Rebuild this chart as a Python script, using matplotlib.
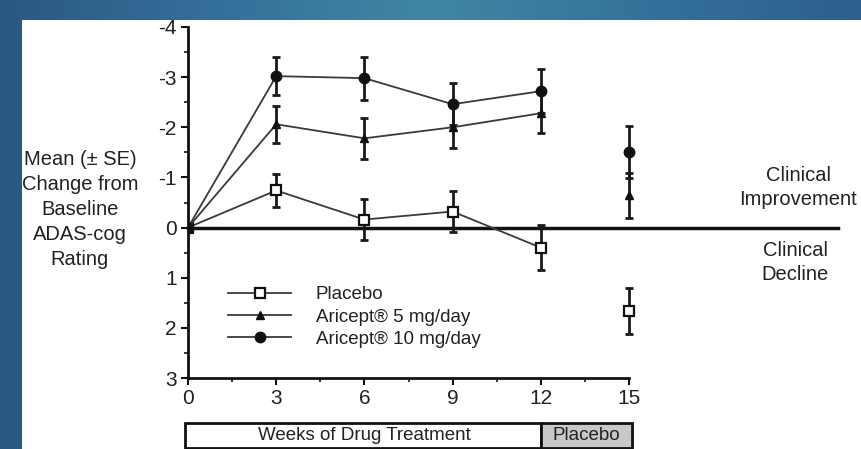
import matplotlib
matplotlib.use('Agg')
import matplotlib.pyplot as plt
import numpy as np
from matplotlib.colors import LinearSegmentedColormap
from matplotlib.patches import Rectangle
from matplotlib.ticker import MultipleLocator

plt.rcParams['font.family'] = ['Liberation Sans', 'DejaVu Sans']

weeks = [0, 3, 6, 9, 12]
followup_week = 15

placebo = [0, -0.74, -0.16, -0.32, 0.40]
placebo_se = [0, 0.33, 0.40, 0.40, 0.45]
placebo_followup, placebo_followup_se = 1.66, 0.46

dose5 = [0, -2.06, -1.78, -2.00, -2.28]
dose5_se = [0, 0.37, 0.41, 0.42, 0.40]
dose5_followup, dose5_followup_se = -0.64, 0.45

dose10 = [0, -3.02, -2.98, -2.46, -2.72]
dose10_se = [0, 0.38, 0.43, 0.42, 0.44]
dose10_followup, dose10_followup_se = -1.50, 0.52

labels = ['Placebo', 'Aricept\u00ae 5 mg/day', 'Aricept\u00ae 10 mg/day']

txt = '#222222'
line_c = '#3a3a3a'

fig = plt.figure(figsize=(8.61, 4.49), dpi=100)

# blue frame behind the white panel
bg = fig.add_axes([0, 0, 1, 1], zorder=-5)
cmap = LinearSegmentedColormap.from_list('frame', ['#2a5883', '#35709a', '#3f86a5', '#35729b', '#2c5f8b'])
bg.imshow(np.linspace(0, 1, 256)[None, :], aspect='auto', cmap=cmap, extent=[0, 1, 0, 1])
bg.set_axis_off()
fig.patches.append(Rectangle((22 / 861, 0), 1, (449 - 20) / 449, transform=fig.transFigure,
                             facecolor='white', edgecolor='none', zorder=-4))

ax = fig.add_axes([188 / 861, 71 / 449, 441 / 861, 351 / 449])
ax.set_facecolor('none')

series = [
    (placebo, placebo_se, placebo_followup, placebo_followup_se, dict(marker='s', mfc='white', ms=7, mew=1.6)),
    (dose5, dose5_se, dose5_followup, dose5_followup_se, dict(marker='^', mfc='#111111', ms=6, mew=1)),
    (dose10, dose10_se, dose10_followup, dose10_followup_se, dict(marker='o', mfc='#111111', ms=7.5, mew=1)),
]

for (vals, se, fv, fse, mk), lab in zip(series, labels):
    eb = ax.errorbar(weeks[1:] + [followup_week], vals[1:] + [fv], yerr=se[1:] + [fse], fmt='none',
                     ecolor='#1a1a1a', elinewidth=2, capsize=3, capthick=2, zorder=3)
    for art in eb.lines[1] + eb.lines[2]:
        art.set_clip_on(False)
    ax.plot(weeks, vals, color=line_c, lw=1.3, mec='#111111', label=lab, zorder=4, **mk)
    ax.plot([followup_week], [fv], ls='none', mec='#111111', zorder=4, clip_on=False, **mk)

ax.axhline(0, xmin=0, xmax=(838 - 188) / 441, color='#111111', lw=2.5, clip_on=False, zorder=2)

ax.set_xlim(0, 15)
ax.set_ylim(3, -4)
ax.xaxis.set_major_locator(MultipleLocator(3))
ax.xaxis.set_minor_locator(MultipleLocator(1.5))
ax.yaxis.set_major_locator(MultipleLocator(1))
ax.yaxis.set_minor_locator(MultipleLocator(0.5))
for s in ['top', 'right']:
    ax.spines[s].set_visible(False)
for s in ['left', 'bottom']:
    ax.spines[s].set_linewidth(2)
    ax.spines[s].set_color('#111111')
ax.tick_params(which='major', length=5, width=1.5, color='#111111', labelsize=15, labelcolor=txt, pad=3)
ax.tick_params(which='minor', length=3, width=1.2, color='#111111')
ax.set_yticks(range(-4, 4))
ax.set_yticklabels(['-4', '-3', '-2', '-1', '0', '1', '2', '3'])

ax.text(-0.245, 0.481, 'Mean (\u00b1 SE)\nChange from\nBaseline\nADAS-cog\nRating', transform=ax.transAxes,
        ha='center', va='center', fontsize=14.5, color=txt, linespacing=1.4)

ax.text(20.75, -0.8, 'Clinical\nImprovement', ha='center', va='center', fontsize=14.5, color=txt,
        linespacing=1.35, clip_on=False)
ax.text(20.65, 0.7, 'Clinical\nDecline', ha='center', va='center', fontsize=14.5, color=txt,
        linespacing=1.35, clip_on=False)

# timeline bar below the axis
bar_y0, bar_y1 = 3.9, 4.4
ax.add_patch(Rectangle((-0.1, bar_y0), 12.1, bar_y1 - bar_y0, facecolor='white', edgecolor='#111111',
                       lw=2, clip_on=False))
ax.add_patch(Rectangle((12.0, bar_y0), 3.1, bar_y1 - bar_y0, facecolor='#c8c8c8', edgecolor='#111111',
                       lw=2, clip_on=False))
ax.text(6.0, (bar_y0 + bar_y1) / 2, 'Weeks of Drug Treatment', ha='center', va='center', fontsize=13.5,
        color=txt, clip_on=False)
ax.text(13.55, (bar_y0 + bar_y1) / 2, 'Placebo', ha='center', va='center', fontsize=13.5,
        color=txt, clip_on=False)

leg = ax.legend(loc='upper left', bbox_to_anchor=(0.09, 0.262), frameon=False, fontsize=13.5,
                handlelength=3.4, handletextpad=1.3, labelspacing=0.28, labelcolor=txt,
                borderaxespad=0, borderpad=0)

fig.savefig('out.png', dpi=100)
